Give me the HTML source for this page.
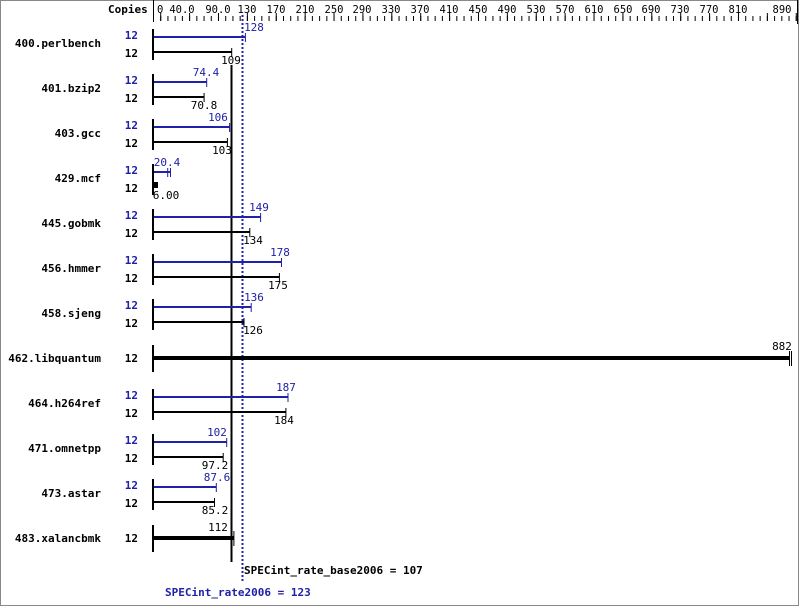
<!DOCTYPE html>
<html><head><style>
html,body{margin:0;padding:0;background:#fff}
svg{display:block}
text{font-family:"DejaVu Sans Mono","Liberation Mono",monospace;font-size:11px}
.n{font-weight:bold;text-anchor:end}
.b{fill:#2020a8}
.k{fill:#000}
.t text{font-size:10.5px}
</style></head><body>
<svg width="799" height="606" xmlns="http://www.w3.org/2000/svg">
<rect x="0.5" y="0.5" width="798" height="605" fill="#fff" stroke="#888"/>
<line x1="153.5" y1="0" x2="153.5" y2="22" stroke="#000"/>
<path d="M153,18.5 H797" stroke="#000" stroke-width="5" stroke-dasharray="1 6.222" fill="none"/>
<path d="M160.2,17 H797" stroke="#000" stroke-width="8" stroke-dasharray="1 27.889" fill="none"/>
<line x1="797.5" y1="0" x2="797.5" y2="24" stroke="#000"/>
<text x="108" y="13" class="k" style="font-weight:bold">Copies</text>
<g class="k t" text-anchor="middle">
<text x="182" y="13">40.0</text>
<text x="218" y="13">90.0</text>
<text x="247" y="13">130</text>
<text x="276" y="13">170</text>
<text x="305" y="13">210</text>
<text x="334" y="13">250</text>
<text x="362" y="13">290</text>
<text x="391" y="13">330</text>
<text x="420" y="13">370</text>
<text x="449" y="13">410</text>
<text x="478" y="13">450</text>
<text x="507" y="13">490</text>
<text x="536" y="13">530</text>
<text x="565" y="13">570</text>
<text x="594" y="13">610</text>
<text x="623" y="13">650</text>
<text x="651" y="13">690</text>
<text x="680" y="13">730</text>
<text x="709" y="13">770</text>
<text x="738" y="13">810</text>
<text x="782" y="13">890</text>
<text x="157" y="13" text-anchor="start">0</text>
</g>

<line x1="231.5" y1="65" x2="231.5" y2="562" stroke="#000" stroke-width="2"/>
<line x1="242.5" y1="15" x2="242.5" y2="582" stroke="#2020a8" stroke-width="2" stroke-dasharray="2 2"/>

<g stroke-width="2">
<line x1="153" y1="37" x2="245.4" y2="37" stroke="#2020a8"/><line x1="245.4" y1="33" x2="245.4" y2="42" stroke="#2020a8" stroke-width="1"/>
<line x1="153" y1="52" x2="231.7" y2="52" stroke="#000"/><line x1="231.7" y1="48" x2="231.7" y2="57" stroke="#000" stroke-width="1"/>
<line x1="153" y1="82" x2="206.7" y2="82" stroke="#2020a8"/><line x1="206.7" y1="78" x2="206.7" y2="87" stroke="#2020a8" stroke-width="1"/>
<line x1="153" y1="97" x2="204.1" y2="97" stroke="#000"/><line x1="204.1" y1="93" x2="204.1" y2="102" stroke="#000" stroke-width="1"/>
<line x1="153" y1="127" x2="229.6" y2="127" stroke="#2020a8"/><line x1="229.6" y1="123" x2="229.6" y2="132" stroke="#2020a8" stroke-width="1"/>
<line x1="153" y1="142" x2="227.4" y2="142" stroke="#000"/><line x1="227.4" y1="138" x2="227.4" y2="147" stroke="#000" stroke-width="1"/>
<line x1="153" y1="172" x2="170" y2="172" stroke="#2020a8"/><line x1="167.7" y1="168" x2="167.7" y2="177" stroke="#2020a8" stroke-width="1"/><line x1="170.5" y1="168" x2="170.5" y2="177" stroke="#2020a8" stroke-width="1"/>
<rect x="153" y="182" width="5" height="6" fill="#000" stroke="none"/>
<line x1="153" y1="217" x2="260.6" y2="217" stroke="#2020a8"/><line x1="260.6" y1="213" x2="260.6" y2="222" stroke="#2020a8" stroke-width="1"/>
<line x1="153" y1="232" x2="249.8" y2="232" stroke="#000"/><line x1="249.8" y1="228" x2="249.8" y2="237" stroke="#000" stroke-width="1"/>
<line x1="153" y1="262" x2="281.5" y2="262" stroke="#2020a8"/><line x1="281.5" y1="258" x2="281.5" y2="267" stroke="#2020a8" stroke-width="1"/>
<line x1="153" y1="277" x2="279.4" y2="277" stroke="#000"/><line x1="279.4" y1="273" x2="279.4" y2="282" stroke="#000" stroke-width="1"/>
<line x1="153" y1="307" x2="251.2" y2="307" stroke="#2020a8"/><line x1="251.2" y1="303" x2="251.2" y2="312" stroke="#2020a8" stroke-width="1"/>
<line x1="153" y1="322" x2="244" y2="322" stroke="#000"/><line x1="244" y1="318" x2="244" y2="327" stroke="#000" stroke-width="1"/>
<rect x="153" y="356" width="637" height="4" fill="#000" stroke="none"/>
<line x1="789.5" y1="351" x2="789.5" y2="366" stroke="#000" stroke-width="1"/><line x1="791.5" y1="351" x2="791.5" y2="366" stroke="#000" stroke-width="1"/>
<line x1="153" y1="397" x2="288" y2="397" stroke="#2020a8"/><line x1="288" y1="393" x2="288" y2="402" stroke="#2020a8" stroke-width="1"/>
<line x1="153" y1="412" x2="285.9" y2="412" stroke="#000"/><line x1="285.9" y1="408" x2="285.9" y2="417" stroke="#000" stroke-width="1"/>
<line x1="153" y1="442" x2="226.7" y2="442" stroke="#2020a8"/><line x1="226.7" y1="438" x2="226.7" y2="447" stroke="#2020a8" stroke-width="1"/>
<line x1="153" y1="457" x2="223.2" y2="457" stroke="#000"/><line x1="223.2" y1="453" x2="223.2" y2="462" stroke="#000" stroke-width="1"/>
<line x1="153" y1="487" x2="216.3" y2="487" stroke="#2020a8"/><line x1="216.3" y1="483" x2="216.3" y2="492" stroke="#2020a8" stroke-width="1"/>
<line x1="153" y1="502" x2="214.5" y2="502" stroke="#000"/><line x1="214.5" y1="498" x2="214.5" y2="507" stroke="#000" stroke-width="1"/>
<rect x="153" y="536" width="81" height="4" fill="#000" stroke="none"/>
<line x1="233.9" y1="531" x2="233.9" y2="546" stroke="#000" stroke-width="1"/>
</g>
<g stroke="#000" stroke-width="2">
<line x1="153" y1="29" x2="153" y2="60"/>
<line x1="153" y1="74" x2="153" y2="105"/>
<line x1="153" y1="119" x2="153" y2="150"/>
<line x1="153" y1="164" x2="153" y2="195"/>
<line x1="153" y1="209" x2="153" y2="240"/>
<line x1="153" y1="254" x2="153" y2="285"/>
<line x1="153" y1="299" x2="153" y2="330"/>
<line x1="153" y1="345" x2="153" y2="372"/>
<line x1="153" y1="389" x2="153" y2="420"/>
<line x1="153" y1="434" x2="153" y2="465"/>
<line x1="153" y1="479" x2="153" y2="510"/>
<line x1="153" y1="525" x2="153" y2="552"/>
</g>

<g class="n k">
<text x="101" y="47">400.perlbench</text>
<text x="101" y="92">401.bzip2</text>
<text x="101" y="137">403.gcc</text>
<text x="101" y="182">429.mcf</text>
<text x="101" y="227">445.gobmk</text>
<text x="101" y="272">456.hmmer</text>
<text x="101" y="317">458.sjeng</text>
<text x="101" y="362">462.libquantum</text>
<text x="101" y="407">464.h264ref</text>
<text x="101" y="452">471.omnetpp</text>
<text x="101" y="497">473.astar</text>
<text x="101" y="542">483.xalancbmk</text>
</g>
<g style="font-weight:bold" text-anchor="end">
<text x="138" y="39" class="b">12</text><text x="138" y="57" class="k">12</text>
<text x="138" y="84" class="b">12</text><text x="138" y="102" class="k">12</text>
<text x="138" y="129" class="b">12</text><text x="138" y="147" class="k">12</text>
<text x="138" y="174" class="b">12</text><text x="138" y="192" class="k">12</text>
<text x="138" y="219" class="b">12</text><text x="138" y="237" class="k">12</text>
<text x="138" y="264" class="b">12</text><text x="138" y="282" class="k">12</text>
<text x="138" y="309" class="b">12</text><text x="138" y="327" class="k">12</text>
<text x="138" y="362" class="k">12</text>
<text x="138" y="399" class="b">12</text><text x="138" y="417" class="k">12</text>
<text x="138" y="444" class="b">12</text><text x="138" y="462" class="k">12</text>
<text x="138" y="489" class="b">12</text><text x="138" y="507" class="k">12</text>
<text x="138" y="542" class="k">12</text>
</g>
<g text-anchor="middle">
<text x="254" y="31" class="b">128</text><text x="231" y="64" class="k">109</text>
<text x="206" y="76" class="b">74.4</text><text x="204" y="109" class="k">70.8</text>
<text x="218" y="121" class="b">106</text><text x="222" y="154" class="k">103</text>
<text x="167" y="166" class="b">20.4</text><text x="166" y="199" class="k">6.00</text>
<text x="259" y="211" class="b">149</text><text x="253" y="244" class="k">134</text>
<text x="280" y="256" class="b">178</text><text x="278" y="289" class="k">175</text>
<text x="254" y="301" class="b">136</text><text x="253" y="334" class="k">126</text>
<text x="782" y="350" class="k">882</text>
<text x="286" y="391" class="b">187</text><text x="284" y="424" class="k">184</text>
<text x="217" y="436" class="b">102</text><text x="215" y="469" class="k">97.2</text>
<text x="217" y="481" class="b">87.6</text><text x="215" y="514" class="k">85.2</text>
<text x="218" y="531" class="k">112</text>
</g>
<text x="244" y="574" class="k" style="font-weight:bold">SPECint_rate_base2006 = 107</text>
<text x="165" y="596" class="b" style="font-weight:bold">SPECint_rate2006 = 123</text>
</svg>
</body></html>
